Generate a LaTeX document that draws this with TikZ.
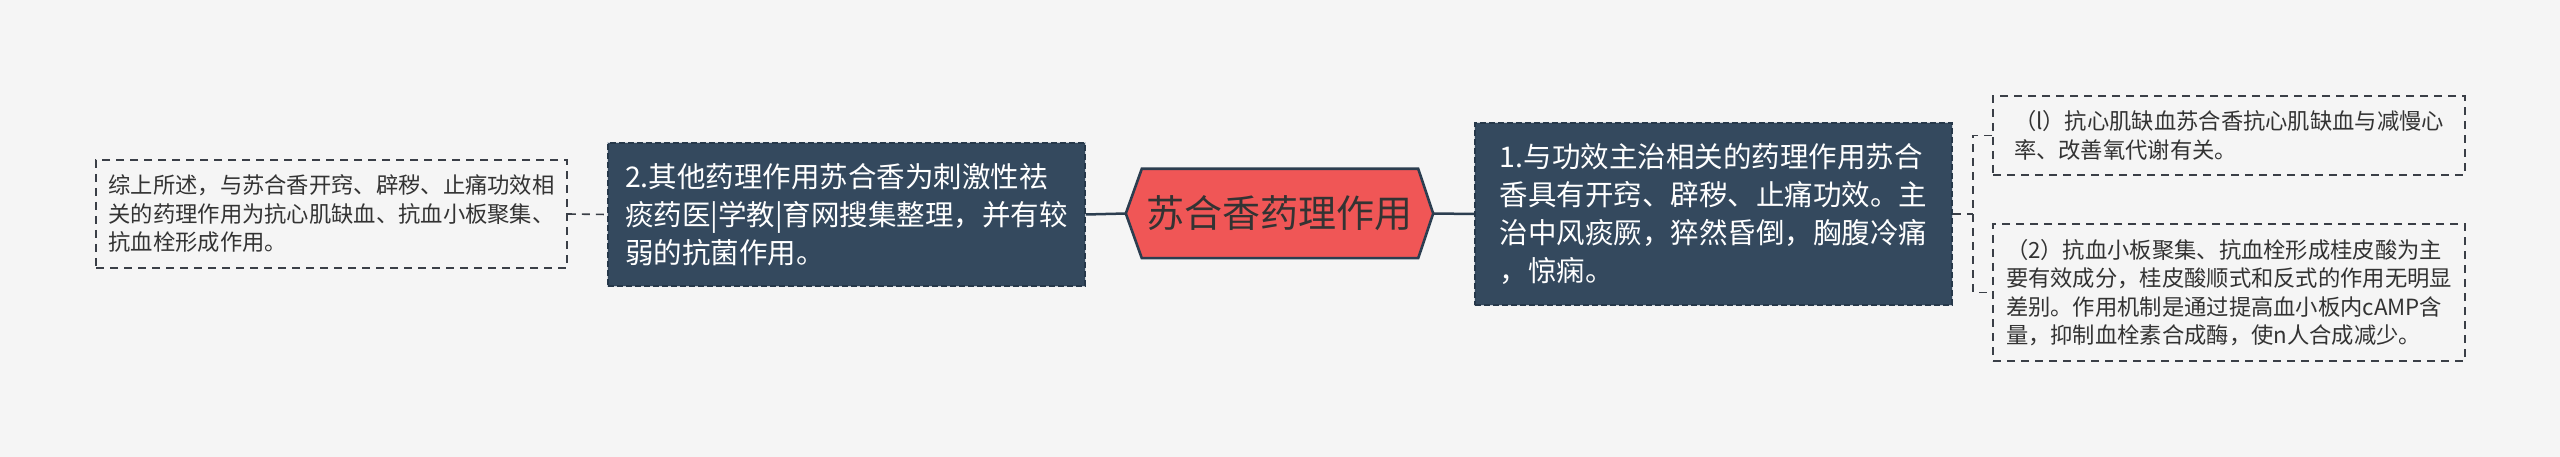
\documentclass[tikz,border=0pt]{standalone}
\usepackage{fontspec}
\setmainfont{Noto Sans CJK SC}
\usetikzlibrary{calc}
\definecolor{bg}{HTML}{F5F5F5}
\definecolor{darkfill}{HTML}{34495E}
\definecolor{darkedge}{HTML}{26384A}
\definecolor{hexfill}{HTML}{F05656}
\definecolor{hexedge}{HTML}{2C3E50}
\definecolor{txt}{HTML}{333333}
\definecolor{dline}{HTML}{3A3F47}
\pgfdeclarelayer{background}
\pgfsetlayers{background,main}
\begin{document}
\begin{tikzpicture}[x=1pt,y=-1pt,
 lightbox/.style={rectangle, draw=dline, line width=1.6pt, dash pattern=on 8pt off 6pt, fill=bg, align=left, text=txt, font=\fontsize{22.3}{28.5}\selectfont, inner sep=0pt},
 darkbox/.style={rectangle, fill=darkfill, draw=darkedge, line width=1.5pt, dash pattern=on 6pt off 3pt, preaction={draw=white!75!darkfill, solid, line width=1.5pt}, align=left, text=white, font=\fontsize{28.5}{38}\selectfont, inner sep=0pt},
 conn/.style={draw=dline, line width=1.6pt, dash pattern=on 8pt off 6pt},
 solidconn/.style={draw=hexedge, line width=2.5pt}]
\useasboundingbox (0,0) rectangle (2560,457);

\node[lightbox, minimum width=471pt, minimum height=108pt] (sum) at (331.5,214) {综上所述，与苏合香开窍、辟秽、止痛功效相\\关的药理作用为抗心肌缺血、抗血小板聚集、\\抗血栓形成作用。};

\node[darkbox, minimum width=477pt, minimum height=143pt] (other) at (846.5,214.5) {2.其他药理作用苏合香为刺激性祛\\痰药医|学教|育网搜集整理，并有较\\弱的抗菌作用。};

\node[text=txt, font=\fontsize{38}{46}\selectfont, minimum width=307pt, minimum height=89pt, inner sep=0pt] (root) at (1279.5,213.5) {苏合香药理作用};

\node[darkbox, minimum width=477pt, minimum height=182pt] (pharm) at (1713.5,214) {1.与功效主治相关的药理作用苏合\\香具有开窍、辟秽、止痛功效。主\\治中风痰厥，猝然昏倒，胸腹冷痛\\，惊痫。};

\node[lightbox, minimum width=472pt, minimum height=79pt] (isch) at (2229,135.5) {（l）抗心肌缺血苏合香抗心肌缺血与减慢心\\率、改善氧代谢有关。};

\node[lightbox, minimum width=472pt, minimum height=137pt] (plate) at (2229,292.5) {（2）抗血小板聚集、抗血栓形成桂皮酸为主\\要有效成分，桂皮酸顺式和反式的作用无明显\\差别。作用机制是通过提高血小板内cAMP含\\量，抑制血栓素合成酶，使n人合成减少。};

\begin{pgfonlayer}{background}
\fill[bg] (0,0) rectangle (2560,457);
\draw[hexedge, fill=hexfill, line width=2.6pt, line join=miter]
  (root.west) -- ($(root.north west)+(16,0)$) -- ($(root.north east)+(-15,0)$) -- (root.east)
  -- ($(root.south east)+(-15,0)$) -- ($(root.south west)+(16,0)$) -- cycle;
\end{pgfonlayer}

\draw[conn] (sum.east) -- (other.west);
\draw[solidconn] (other.east) -- (root.west);
\draw[solidconn] (root.east) -- (pharm.west);
\coordinate (br) at (1973,214);
\draw[conn] (pharm.east) -- (br);
\draw[conn] (isch.west) -| (br) |- (plate.west);
\end{tikzpicture}
\end{document}
